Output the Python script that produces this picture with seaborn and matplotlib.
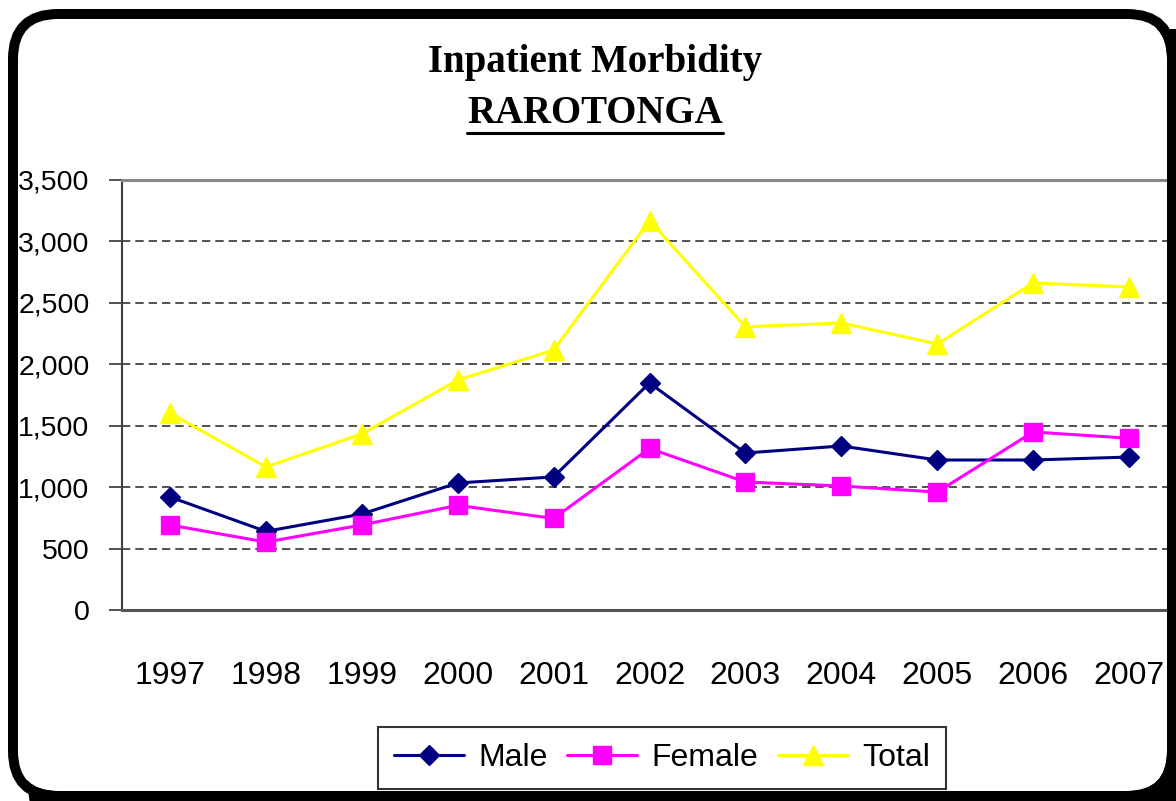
import matplotlib
matplotlib.use("Agg")
import matplotlib.pyplot as plt
from matplotlib.patches import FancyBboxPatch
from matplotlib.lines import Line2D
from matplotlib.ticker import FuncFormatter
import seaborn as sns

# data
years = ["1997", "1998", "1999", "2000", "2001", "2002", "2003", "2004", "2005", "2006", "2007"]
male = [920, 640, 781, 1034, 1083, 1848, 1278, 1335, 1221, 1221, 1245]
female = [692, 553, 692, 852, 745, 1315, 1042, 1009, 960, 1449, 1398]
total = [1603, 1164, 1433, 1872, 2116, 3168, 2305, 2336, 2165, 2662, 2629]
series_names = ["Male", "Female", "Total"]

sns.set_style("white")
plt.rcParams["font.family"] = ["Liberation Sans", "DejaVu Sans"]
plt.rcParams["text.color"] = "black"

fig = plt.figure(figsize=(11.76, 8.01), dpi=100)
fig.patch.set_facecolor("white")

# rounded frame with shadow (inches, so corners stay round)
shadow = FancyBboxPatch((0.28, -0.30), 11.92, 8.02, boxstyle="round,pad=0,rounding_size=0.45",
                        transform=fig.dpi_scale_trans, fc="black", ec="none", zorder=-3)
inner = FancyBboxPatch((0.18, 0.10), 11.49, 7.72, boxstyle="round,pad=0,rounding_size=0.40",
                       transform=fig.dpi_scale_trans, fc="white", ec="none", zorder=-2)
ring = FancyBboxPatch((0.13, 0.05), 11.59, 7.82, boxstyle="round,pad=0,rounding_size=0.45",
                      transform=fig.dpi_scale_trans, fc="none", ec="black", lw=7.2, zorder=10)
for p in (shadow, inner, ring):
    fig.add_artist(p)

ax = fig.add_axes([122 / 1176, 1 - 610 / 801, 1055 / 1176, 430 / 801])
ax.set_facecolor("none")

styles = [("#000080", "D", 10.5), ("#FF00FF", "s", 13), ("#FFFF00", "^", 15)]
for name, vals, (col, mk, ms) in zip(series_names, [male, female, total], styles):
    sns.lineplot(x=years, y=vals, ax=ax, color=col, marker=mk, markersize=ms,
                 markeredgecolor=col, markeredgewidth=1, linewidth=2.2, label=name)
if ax.get_legend() is not None:
    ax.get_legend().remove()

ax.set_xlim(-0.5, 10.5)
ax.set_ylim(0, 3500)
ax.set_yticks(range(0, 3501, 500))
ax.yaxis.set_major_formatter(FuncFormatter(lambda v, p: f"{v:,.0f}"))
ax.set_xticks(range(len(years)))
ax.set_xticklabels(years)
ax.set_xticks([i - 0.5 for i in range(len(years) + 1)], minor=True)
ax.tick_params(axis="x", which="major", length=0, pad=37, labelsize=23, labelcolor="black")
ax.tick_params(axis="x", which="minor", length=9.4, width=1.2, color="#333333", direction="out")
ax.tick_params(axis="y", which="major", length=9.4, width=1.2, color="#333333",
               direction="out", pad=14, labelsize=20.5, labelcolor="black", left=True)
ax.set_xlabel("")
ax.set_ylabel("")

ax.yaxis.grid(True, linestyle=(0, (5, 3)), color="#333333", linewidth=1.2)
ax.xaxis.grid(False)
ax.spines["right"].set_visible(False)
ax.spines["left"].set_color("#404040")
ax.spines["left"].set_linewidth(1.5)
ax.spines["bottom"].set_color("#555555")
ax.spines["bottom"].set_linewidth(2.2)
ax.spines["top"].set_color("#888888")
ax.spines["top"].set_linewidth(2.2)

# titles
fig.text(595 / 1176, 1 - 72 / 801, "Inpatient Morbidity", ha="center", va="baseline",
         family="Liberation Serif", weight="bold", fontsize=28, color="black")
t2 = fig.text(595 / 1176, 1 - 123 / 801, "RAROTONGA", ha="center", va="baseline",
              family="Liberation Serif", weight="bold", fontsize=28, color="black")
fig.canvas.draw()
bb = t2.get_window_extent().transformed(fig.transFigure.inverted())
fig.add_artist(Line2D([bb.x0, bb.x1], [1 - 133 / 801] * 2, transform=fig.transFigure,
                      color="black", lw=2.2))

handles, labels = ax.get_legend_handles_labels()
leg = fig.legend(handles, labels, loc="center", bbox_to_anchor=(662 / 1176, 1 - 758 / 801),
                 ncol=3, fontsize=23, frameon=True, fancybox=False, framealpha=1,
                 edgecolor="#333333", handlelength=2.2, handletextpad=0.45,
                 columnspacing=0.6, borderpad=0.5)
leg.get_frame().set_linewidth(1.5)
leg.set_zorder(5)

fig.savefig("out.png", dpi=100)
